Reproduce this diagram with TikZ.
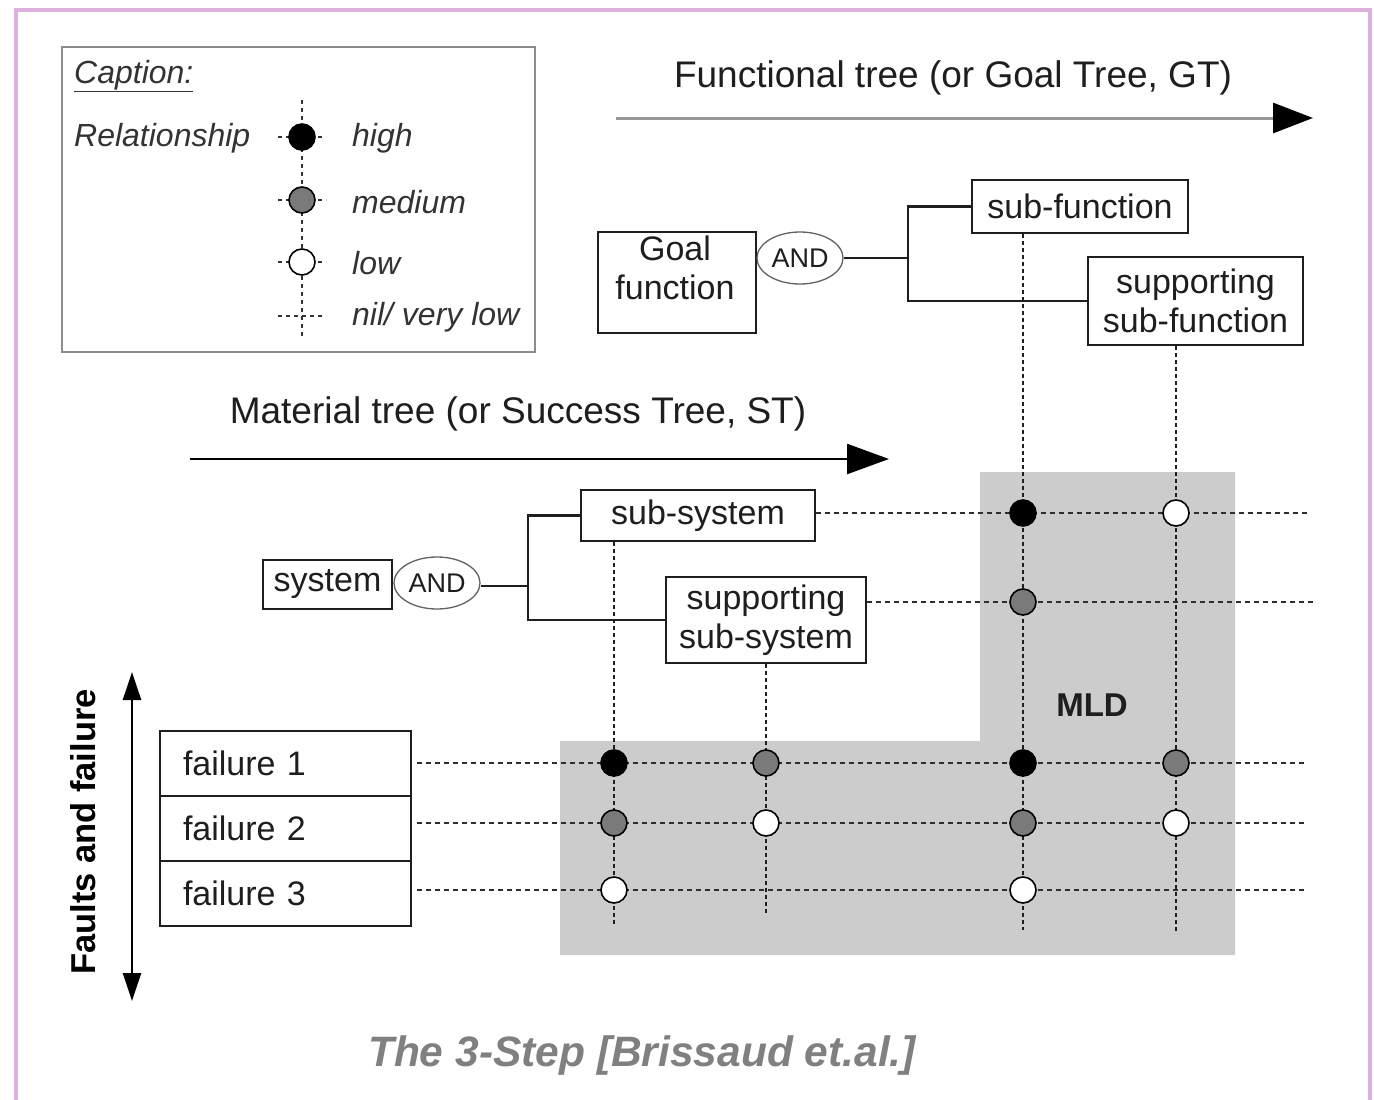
\documentclass[tikz,border=0pt]{standalone}
\usepackage{fontspec}
\setmainfont{Liberation Sans}
\usetikzlibrary{shapes.geometric,arrows.meta}
\definecolor{frame}{HTML}{DDB0DD}
\definecolor{mldgray}{HTML}{CCCCCC}
\definecolor{medgray}{HTML}{7A7A7A}
\definecolor{ink}{HTML}{1E1E1E}
\definecolor{legendink}{HTML}{333333}
\definecolor{capgray}{HTML}{808080}
\tikzset{
  boxfont/.style={font=\fontsize{34}{39}\selectfont},
  box/.style={draw=ink, line width=1.8, fill=white, inner sep=0, text=ink, boxfont},
  andnode/.style={ellipse, draw=ink!70, line width=1.3, fill=white, inner sep=0,
    minimum width=86, minimum height=52, text=ink, font=\fontsize{27}{30}\selectfont},
  conn/.style={draw=ink, line width=2.2},
  gdash/.style={draw=black!82, line width=2.4, dash pattern=on 5 off 4},
  vdash/.style={draw=black!88, line width=2.2, dash pattern=on 4 off 3},
  ldash/.style={draw=black!80, line width=1.5, dash pattern=on 4 off 4},
  dot/.style={circle, draw=black, line width=1.6, minimum size=26, inner sep=0},
  high/.style={dot, fill=black},
  medium/.style={dot, fill=medgray},
  low/.style={dot, fill=white},
  legtext/.style={anchor=west, inner sep=0, text=legendink, font=\fontsize{32}{36}\selectfont\itshape},
  title/.style={inner sep=0, text=ink, font=\fontsize{37}{42}\selectfont},
  failbox/.style={box, minimum width=251, minimum height=65, text width=205, inner xsep=23, align=left}
}
\begin{document}
\begin{tikzpicture}[x=1pt,y=-1pt]
\useasboundingbox (0,0) rectangle (1374,1100);
\fill[white] (0,0) rectangle (1374,1100);
% frame
\draw[frame, line width=4] (16,1104) -- (16,10) -- (1370,10) -- (1370,1104);

% MLD region
\fill[mldgray] (980,472) -- (1235,472) -- (1235,955) -- (560,955) -- (560,741) -- (980,741) -- cycle;
\node[inner sep=0, text=ink, font=\fontsize{33}{36}\selectfont\bfseries] (mld) at (1092,705) {MLD};

% legend
\node[draw=black!45, line width=1.6, fill=white, minimum width=473, minimum height=305, inner sep=0] (legend) at (298.5,199.5) {};
\node[legtext] (captxt) at (74,76) {\underline{Caption:}};
\node[legtext] (reltxt) at (74,138) {Relationship};
\coordinate (lvt) at (302,100);
\coordinate (lvb) at (302,338);
\draw[ldash] (lvt) -- (lvb);
\foreach \yy in {137,200,262,316} { \draw[ldash] (278,\yy) -- (326,\yy); }
\node[high]   (lhigh) at (302,137) {};
\node[medium] (lmed)  at (302,200) {};
\node[low]    (llow)  at (302,262) {};
\node[legtext] (thigh) at (352,138) {high};
\node[legtext] (tmed)  at (352,202) {medium};
\node[legtext] (tlow)  at (352,263) {low};
\node[legtext] (tnil)  at (352,317) {nil/ very low};

% functional tree title and arrow
\node[title] (ftitle) at (953,78) {Functional tree (or Goal Tree, GT)};
\coordinate (fa1) at (616,118);
\coordinate (fa2) at (1313,118);
\draw[draw=black!40, line width=3, -{Triangle[length=40,width=30,color=black,fill=black]}] (fa1) -- (fa2);

% material tree title and arrow
\node[title] (mtitle) at (518,414) {Material tree (or Success Tree, ST)};
\coordinate (ma1) at (190,459);
\coordinate (ma2) at (889,459);
\draw[black, line width=2.5, -{Triangle[length=42,width=30]}] (ma1) -- (ma2);

% faults arrow
\coordinate (fu) at (132,672);
\coordinate (fd) at (132,1001);
\draw[black, line width=2.5, {Triangle[length=28,width=18]}-{Triangle[length=28,width=18]}] (fu) -- (fd);
\node[inner sep=0, rotate=90, text=black, font=\fontsize{34.5}{38}\selectfont\bfseries] (faults) at (83,832) {Faults and failure};

% grid coordinates
\coordinate (c1b) at (614,925);
\coordinate (c2b) at (766,915);
\coordinate (c3b) at (1023,930);
\coordinate (c4b) at (1176,932);
\coordinate (r1e) at (1310,513);
\coordinate (r2e) at (1316,602);
\coordinate (r3e) at (1305,763);
\coordinate (r4e) at (1305,823);
\coordinate (r5e) at (1305,890);

% boxes (functional)
\node[box, minimum width=158, minimum height=101] (goal) at (677,282.5) {};
\node[inner sep=0, text=ink, boxfont, align=center] (goaltxt) at (675,268) {Goal\\function};
\node[andnode] (gand) at (800,258) {AND};
\node[box, minimum width=216, minimum height=53] (subf) at (1080,206.5) {sub-function};
\node[box, minimum width=215, minimum height=88, align=center] (ssf) at (1195.5,301) {supporting\\sub-function};

% boxes (material)
\node[box, minimum width=129, minimum height=49] (sys) at (327.5,584.5) {system};
\node[andnode] (sand) at (437,583) {AND};
\node[box, minimum width=234, minimum height=51] (subsys) at (698,515.5) {sub-system};
\node[box, minimum width=200, minimum height=86, align=center] (ssys) at (766,620) {supporting\\sub-system};

% failure boxes
\node[failbox] (f1) at (285.5,763.5) {failure 1};
\node[failbox] (f2) at (285.5,828.5) {failure 2};
\node[failbox] (f3) at (285.5,893.5) {failure 3};

% tree connectors
\coordinate (gj) at (908,258);
\draw[conn] (gand.east) -- (gj);
\draw[conn] (gj) |- (subf.west);
\draw[conn] (gj) |- (ssf.west);
\coordinate (sj) at (528,586);
\draw[conn] (sand.east |- sj) -- (sj);
\draw[conn] (sj) |- (subsys.west);
\draw[conn] (sj) |- (ssys.west);

% vertical dashed columns
\draw[vdash] (subsys.south -| c1b) -- (c1b);
\draw[vdash] (ssys.south -| c2b) -- (c2b);
\draw[vdash] (subf.south -| c3b) -- (c3b);
\draw[vdash] (ssf.south -| c4b) -- (c4b);

% horizontal dashed rows
\draw[gdash] (subsys.east |- r1e) -- (r1e);
\draw[gdash] (ssys.east |- r2e) -- (r2e);
\draw[gdash] ([xshift=5]f1.east |- r3e) -- (r3e);
\draw[gdash] ([xshift=5]f2.east |- r4e) -- (r4e);
\draw[gdash] ([xshift=5]f3.east |- r5e) -- (r5e);

% redraw boxes above dashes
\node[box, minimum width=234, minimum height=51] at (subsys) {sub-system};
\node[box, minimum width=200, minimum height=86, align=center] at (ssys) {supporting\\sub-system};

% relationship dots
\node[high]   (d31) at (c3b |- r1e) {};
\node[low]    (d41) at (c4b |- r1e) {};
\node[medium] (d32) at (c3b |- r2e) {};
\node[high]   (d13) at (c1b |- r3e) {};
\node[medium] (d23) at (c2b |- r3e) {};
\node[high]   (d33) at (c3b |- r3e) {};
\node[medium] (d43) at (c4b |- r3e) {};
\node[medium] (d14) at (c1b |- r4e) {};
\node[low]    (d24) at (c2b |- r4e) {};
\node[medium] (d34) at (c3b |- r4e) {};
\node[low]    (d44) at (c4b |- r4e) {};
\node[low]    (d15) at (c1b |- r5e) {};
\node[low]    (d35) at (c3b |- r5e) {};

% bottom caption
\node[inner sep=0, text=capgray, font=\fontsize{42.5}{46}\selectfont\bfseries\itshape] (bcap) at (642,1056) {The 3-Step [Brissaud et.al.]};
\end{tikzpicture}
\end{document}
